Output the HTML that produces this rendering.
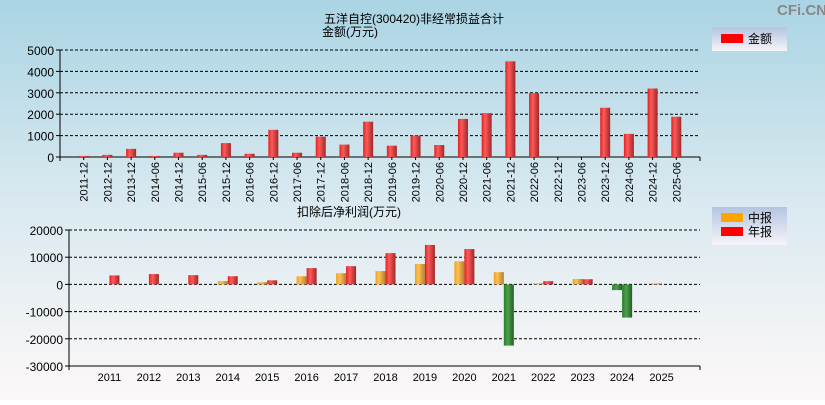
<!DOCTYPE html>
<html><head><meta charset="utf-8"><style>
body{margin:0;width:825px;height:400px;overflow:hidden;font-family:"Liberation Sans","Noto Sans CJK SC",sans-serif}
svg text{font-family:"Liberation Sans","Noto Sans CJK SC",sans-serif}
</style></head><body>
<svg id="c" width="825" height="400" xmlns="http://www.w3.org/2000/svg">
<defs>
<linearGradient id="bg" x1="0" y1="0" x2="0" y2="1"><stop offset="0" stop-color="#aad4e4"/><stop offset="0.5" stop-color="#d9e9f0"/><stop offset="1" stop-color="#fdf8f8"/></linearGradient>
<linearGradient id="lg" x1="0" y1="0" x2="0" y2="1"><stop offset="0" stop-color="#b4c4e0"/><stop offset="1" stop-color="#f6f4f8"/></linearGradient>
<linearGradient id="gr" x1="0" y1="0" x2="1" y2="0"><stop offset="0" stop-color="#e02020"/><stop offset="0.35" stop-color="#ff5a5a"/><stop offset="1" stop-color="#a02828"/></linearGradient>
<linearGradient id="go" x1="0" y1="0" x2="1" y2="0"><stop offset="0" stop-color="#f0a020"/><stop offset="0.35" stop-color="#ffc050"/><stop offset="1" stop-color="#b08030"/></linearGradient>
<linearGradient id="gg" x1="0" y1="0" x2="1" y2="0"><stop offset="0" stop-color="#208020"/><stop offset="0.4" stop-color="#50a050"/><stop offset="1" stop-color="#206020"/></linearGradient>
</defs>
<rect width="825" height="400" fill="url(#bg)"/>
<text x="777" y="15" font-size="15" font-weight="bold" fill="#888">CFi.CN</text>
<text x="324" y="23" font-size="12">五洋自控(300420)非经常损益合计</text>
<text x="322" y="36" font-size="12">金额(万元)</text>
<text x="297" y="216" font-size="12">扣除后净利润(万元)</text>
<g>
<rect x="712" y="27" width="75" height="24" fill="url(#lg)"/>
<rect x="721" y="34" width="22" height="9" fill="#f00"/>
<text x="748" y="43" font-size="12">金额</text></g>
<g>
<rect x="712" y="207" width="75" height="38" fill="url(#lg)"/>
<rect x="721" y="213" width="22" height="9" fill="#ffa500"/>
<text x="748" y="222" font-size="12">中报</text>
<rect x="721" y="227" width="22" height="9" fill="#f00"/>
<text x="748" y="236" font-size="12">年报</text></g>
<g id="top"></g><g id="bot"></g>
</svg>
<script>
const topCats=["2011-12","2012-12","2013-12","2014-06","2014-12","2015-06","2015-12","2016-06","2016-12","2017-06","2017-12","2018-06","2018-12","2019-06","2019-12","2020-06","2020-12","2021-06","2021-12","2022-06","2022-12","2023-06","2023-12","2024-06","2024-12","2025-06"];
const topVals=[50,100,380,50,200,100,650,150,1270,200,950,580,1650,530,1000,560,1780,2050,4470,2980,0,0,2300,1080,3200,1880];
const topTicks=[0,1000,2000,3000,4000,5000];
const years=["2011","2012","2013","2014","2015","2016","2017","2018","2019","2020","2021","2022","2023","2024","2025"];
const midVals=[null,null,null,1200,800,3000,4100,4900,7500,8500,4500,400,2000,-2100,400];
const annVals=[3300,3800,3400,3000,1500,6000,6700,11500,14500,13000,-22500,1200,1900,-12200,null];
const botTicks=[-30000,-20000,-10000,0,10000,20000];
const NS="http://www.w3.org/2000/svg";
function mk(t,a,p){const e=document.createElementNS(NS,t);for(const k in a)e.setAttribute(k,a[k]);p.appendChild(e);return e;}
const T=document.getElementById('top');
const tL=60,tR=700,tY0=157,tY1=50;
const ty=v=>tY0-(v/5000)*(tY0-tY1);
const tbw=(tR-tL)/(topCats.length+1);
const tx=i=>tL+(i+1)*tbw;
topTicks.forEach(v=>{
 if(v>0){const g=mk('line',{x1:tL,x2:tR,y1:ty(v),y2:ty(v),stroke:'#000','stroke-dasharray':'3,2'},T);}
 mk('line',{x1:tL-4,x2:tL,y1:ty(v),y2:ty(v),stroke:'#000'},T);
 const t=mk('text',{x:tL-6,y:ty(v)+5,'font-size':12,'text-anchor':'end'},T);t.textContent=v;
 
});
mk('line',{x1:tL,x2:tL,y1:tY1,y2:tY0+4,stroke:'#000'},T);
mk('line',{x1:tL,x2:tR,y1:tY0,y2:tY0,stroke:'#000'},T);
mk('line',{x1:tR,x2:tR,y1:tY0,y2:tY0+4,stroke:'#000'},T);
topCats.forEach((c,i)=>{
 const x=tx(i);
 if(topVals[i]>0){const r=mk('rect',{x:x-5,y:ty(topVals[i]),width:10,height:tY0-ty(topVals[i]),fill:'url(#gr)'},T);
 }
 mk('line',{x1:x,x2:x,y1:tY0,y2:tY0+3,stroke:'#000'},T);
 const t=mk('text',{x:0,y:0,'font-size':11,'text-anchor':'end',transform:`translate(${x+4},${tY0+5}) rotate(-90)`},T);t.textContent=c;
 
});
const B=document.getElementById('bot');
const bL=69,bR=700,bTop=230,bBot=366;
const by=v=>bTop+(20000-v)/50000*(bBot-bTop);
const bw=(bR-bL)/16;
const bx=i=>bL+(i+1)*bw;
botTicks.forEach(v=>{
 if(v>-30000){const g=mk('line',{x1:bL,x2:bR,y1:by(v),y2:by(v),stroke:'#000','stroke-dasharray':'3,2'},B);}
 mk('line',{x1:bL-4,x2:bL,y1:by(v),y2:by(v),stroke:'#000'},B);
 const t=mk('text',{x:bL-6,y:by(v)+5,'font-size':12,'text-anchor':'end'},B);t.textContent=v;
 
});
mk('line',{x1:bL,x2:bL,y1:bTop,y2:bBot+4,stroke:'#000'},B);
mk('line',{x1:bL,x2:bR,y1:bBot,y2:bBot,stroke:'#000'},B);
mk('line',{x1:bR,x2:bR,y1:bBot,y2:bBot+4,stroke:'#000'},B);
function bar(v,x,fill,name){
 if(v===null)return;
 const y0=by(0),y1=by(v);
 const r=mk('rect',{x:x,y:Math.min(y0,y1),width:10,height:Math.max(1,Math.abs(y1-y0)),fill:v<0?'url(#gg)':fill},B);
 
}
years.forEach((yr,i)=>{
 const c=bx(i)+1;
 bar(midVals[i],c-10,'url(#go)','bar-mid-'+yr);
 bar(annVals[i],c,'url(#gr)','bar-annual-'+yr);
 const t=mk('text',{x:c,y:bBot+15,'font-size':11,'text-anchor':'middle'},B);t.textContent=yr;
 
});
</script>
</body></html>
